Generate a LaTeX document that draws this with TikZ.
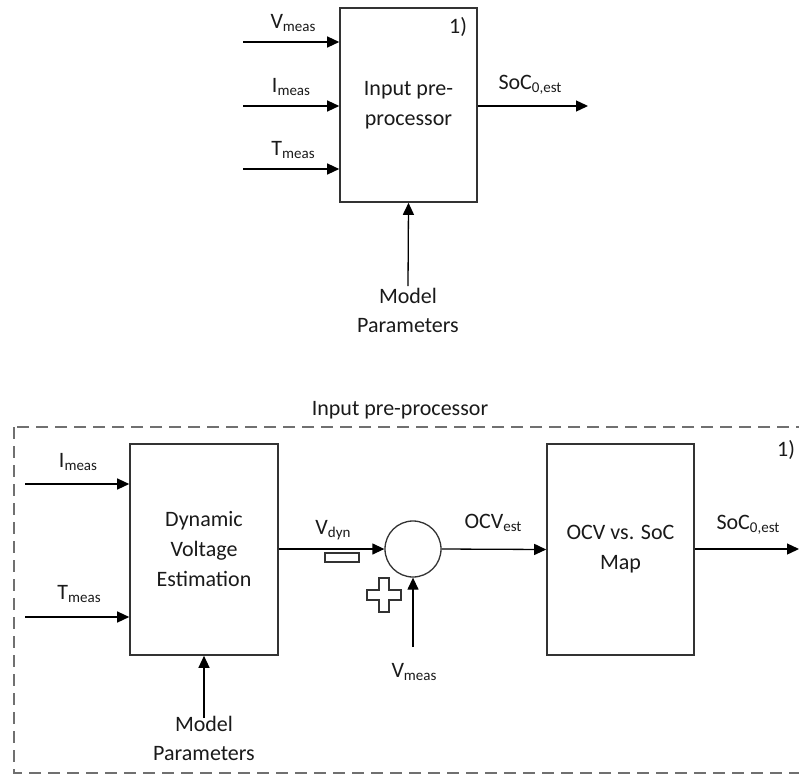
\documentclass[tikz,border=0pt]{standalone}
\usepackage{fontspec}
\setmainfont{Carlito}
\usetikzlibrary{arrows.meta}
\definecolor{ink}{HTML}{1A1A1A}
\definecolor{edge}{HTML}{333333}
\definecolor{dashgray}{HTML}{707070}
\newcommand{\sbs}[1]{\raisebox{-0.25ex}{\fontsize{15}{15}\selectfont #1}}
\tikzset{
  blk/.style={draw=edge, line width=1.6pt, fill=white, align=center, text=ink,
    font=\fontsize{22}{30}\selectfont, inner sep=0pt},
  lbl/.style={text=ink, font=\fontsize{22}{29}\selectfont, inner sep=0pt, align=center},
  arr/.style={draw=black, line width=1.3pt, -{Triangle[length=12pt,width=11pt]}},
  outl/.style={draw=edge, line width=1.3pt, fill=white}
}
\begin{document}
\begin{tikzpicture}[x=1pt,y=-1pt]
\useasboundingbox (0,0) rectangle (799,776);
% ---------- top block ----------
\node[blk, minimum width=137pt, minimum height=194pt] (pp) at (408.5,105) {Input pre-\\processor};
\node[lbl] (n1a) at (458,27) {1)};
\coordinate (vin) at (243,42);
\coordinate (iin) at (243,106);
\coordinate (tin) at (243,169);
\draw[arr] (vin) -- (vin -| pp.west);
\draw[arr] (iin) -- (iin -| pp.west);
\draw[arr] (tin) -- (tin -| pp.west);
\node[lbl] (lva) at (293,23) {V\sbs{meas}};
\node[lbl] (lia) at (291,87) {I\sbs{meas}};
\node[lbl] (lta) at (293,150) {T\sbs{meas}};
\coordinate (socA) at (588,106);
\draw[arr] (pp.east |- socA) -- (socA);
\node[lbl] (lsa) at (530,85) {SoC\sbs{0,est}};
\node[lbl] (mpa) at (408,310) {Model\\Parameters};
\coordinate (mpinA) at (408,286);
\draw[arr] (mpinA) -- (pp.south);
% ---------- bottom block ----------
\draw[draw=dashgray, line width=1.6pt, dash pattern=on 12pt off 7pt] (14,427) rectangle (806,773);
\node[lbl] (ttl) at (400,410) {Input pre-processor};
\node[lbl] (n1b) at (786,450) {1)};
\node[blk, minimum width=148pt, minimum height=211pt] (dve) at (204,549.5) {Dynamic\\Voltage\\Estimation};
\node[blk, minimum width=147pt, minimum height=211pt] (map) at (620.5,549.5) {OCV vs. SoC\\Map};
\node[circle, draw=edge, line width=1.3pt, minimum size=56pt, inner sep=0pt] (sum) at (413,549) {};
\coordinate (iinB) at (25,484);
\coordinate (tinB) at (25,617);
\draw[arr] (iinB) -- (iinB -| dve.west);
\draw[arr] (tinB) -- (tinB -| dve.west);
\node[lbl] (lib) at (78,462) {I\sbs{meas}};
\node[lbl] (ltb) at (79,594) {T\sbs{meas}};
\draw[arr] (dve.east |- sum.west) -- (sum.west);
\node[lbl] (lvd) at (333,530) {V\sbs{dyn}};
\node[outl, minimum width=34pt, minimum height=9pt, inner sep=0pt] (minus) at (342,557.5) {};
\draw[outl] (379,578) -- (389,578) -- (389,590) -- (401,590) -- (401,600) -- (389,600) -- (389,612)
  -- (379,612) -- (379,600) -- (367,600) -- (367,590) -- (379,590) -- cycle;
\coordinate (vmB) at (413,647);
\draw[arr] (vmB) -- (sum.south);
\node[lbl] (lvm) at (414,672) {V\sbs{meas}};
\draw[arr] (sum.east) -- (map.west);
\node[lbl] (locv) at (493,523) {OCV\sbs{est}};
\coordinate (socB) at (799,549);
\draw[arr] (map.east |- socB) -- (socB);
\node[lbl] (lsb) at (748,525) {SoC\sbs{0,est}};
\node[lbl] (mpb) at (204,738) {Model\\Parameters};
\coordinate (mpinB) at (204,718);
\draw[arr] (mpinB) -- (dve.south);
\end{tikzpicture}
\end{document}
